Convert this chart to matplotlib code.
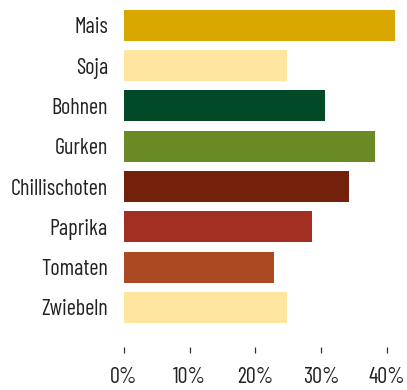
import matplotlib.pyplot as plt

plt.rcParams['font.family'] = ['Barlow Condensed', 'DejaVu Sans']

crops = ['Mais', 'Soja', 'Bohnen', 'Gurken', 'Chillischoten', 'Paprika', 'Tomaten', 'Zwiebeln']
shares = [41.2, 24.8, 30.6, 38.2, 34.2, 28.6, 22.8, 24.8]
colors = ['#D9A800', '#FEE6A0', '#024A27', '#6A8A25', '#74210B', '#A32E22', '#AB4A22', '#FEE6A0']
ticks = [0, 10, 20, 30, 40]

fig = plt.figure(figsize=(4.07, 3.90), dpi=100)
ax = fig.add_axes([124 / 407, 42.7 / 390, (407 - 124) / 407, 347.3 / 390])

ax.barh(range(len(crops)), shares, height=0.77, color=colors, clip_on=False)

ax.set_xlim(0, 283 / 6.57)
ax.set_ylim(7.99, -0.63)
ax.set_yticks(range(len(crops)))
ax.set_yticklabels(crops)
ax.set_xticks(ticks)
ax.set_xticklabels([f'{t}%' for t in ticks])

ax.tick_params(axis='y', length=0, pad=11.5, labelsize=16, labelcolor='#222222')
ax.tick_params(axis='x', length=4.3, width=0.9, color='#333333', pad=10,
               labelsize=16, labelcolor='#222222')

for side in ax.spines.values():
    side.set_visible(False)

fig.savefig('out.png', dpi=100)
